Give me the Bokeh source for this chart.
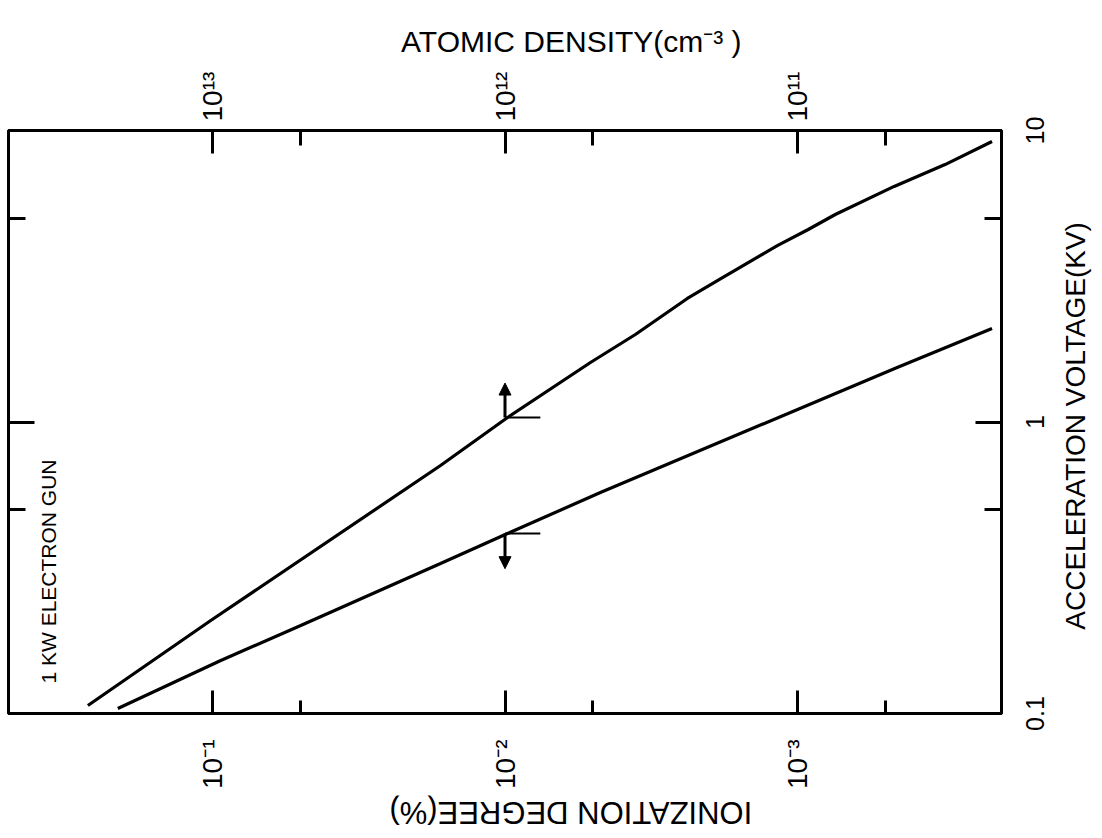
import math
from bokeh.plotting import figure
from bokeh.layouts import column, row
from bokeh.models import (Range1d, LogAxis, LogScale, FixedTicker, Label,
                          ColumnDataSource, Arrow, NormalHead)
from bokeh.core.properties import value
from bokeh.embed import file_html
from bokeh.resources import INLINE

# ---------------- data ----------------
ion_upper = [0.2675, 0.1016, 0.01662, 0.0098, 0.0051, 0.00358, 0.002377, 0.00182,
             0.00117, 9.17e-4, 7.41e-4, 4.66e-4, 3.12e-4, 2.155e-4]
volt_upper = [0.1065, 0.2085, 0.709, 1.036, 1.60, 1.996, 2.653, 3.107,
              4.03, 4.575, 5.15, 6.43, 7.64, 9.17]

ion_lower = [0.2113, 0.0939, 0.0500, 0.01662, 0.0098, 0.004716, 4.55e-4, 2.155e-4]
volt_lower = [0.1040, 0.152, 0.2003, 0.327, 0.4144, 0.573, 1.538, 2.093]

ion_ticks = [1e-1, 1e-2, 1e-3]
ion_tick_labels = ["10\u207b\u00b9", "10\u207b\u00b2", "10\u207b\u00b3"]
ion_minor = [5e-2, 5e-3, 5e-4]

dens_ticks = [1e13, 1e12, 1e11]
dens_tick_labels = ["10\u00b9\u00b3", "10\u00b9\u00b2", "10\u00b9\u00b9"]
dens_minor = [5e12, 5e11, 5e10]

volt_ticks = [0.1, 1, 10]
volt_tick_labels = ["0.1", "1", "10"]
volt_minor = [0.5, 5]

ion_range = (0.5, 2e-4)
volt_range = (0.1, 10)
dens_per_ion = 1e14

marker_ion = [1e-2, 1e-2]
marker_ion_end = [7.57e-3, 7.57e-3]
marker_volt = [1.036, 0.4144]
arrow_volt_end = [1.36, 0.314]

x_title = "IONIZATION  DEGREE(%)"
x2_title = "ATOMIC  DENSITY(cm\u207b\u00b3 )"
y_title = "ACCELERATION  VOLTAGE(KV)"
note = "1 KW ELECTRON GUN"

FONT = "Liberation Sans"
TICK_FS = "28px"

# layout geometry (pixels)
W, H = 1102, 838
TOP_H, BOT_H = 62, 43
MAIN_W = 1003
MAIN_H = H - TOP_H - BOT_H
MB_TOP, MB_BOT, MB_LEFT, MB_RIGHT = 68, 82, 8, 2


def bare(fig):
    fig.grid.visible = False
    fig.outline_line_color = None
    fig.background_fill_color = "white"
    fig.border_fill_color = "white"
    fig.title.visible = False
    if "frame_align" in fig.properties():
        fig.frame_align = False
    return fig


# ---------------- main figure ----------------
p = figure(width=MAIN_W, height=MAIN_H, x_axis_type="log", y_axis_type="log",
           x_range=Range1d(*ion_range), y_range=Range1d(*volt_range),
           output_backend="svg", toolbar_location=None,
           min_border_left=MB_LEFT, min_border_right=MB_RIGHT,
           min_border_top=MB_TOP, min_border_bottom=MB_BOT)
p.title.visible = False
p.grid.visible = False
p.outline_line_color = "black"
p.outline_line_width = 3
p.background_fill_color = "white"
p.border_fill_color = "white"
if "frame_align" in p.properties():
    p.frame_align = False

p.extra_x_ranges = {"density": Range1d(ion_range[0] * dens_per_ion, ion_range[1] * dens_per_ion)}
p.extra_x_scales = {"density": LogScale()}


def style(ax, major, minor, labels, orient, standoff, tin, tmin):
    ax.ticker = FixedTicker(ticks=major, minor_ticks=minor)
    ax.major_label_overrides = {float(t): l for t, l in zip(major, labels)}
    ax.major_label_orientation = orient
    ax.major_label_standoff = standoff
    ax.major_tick_in = tin
    ax.major_tick_out = 0
    ax.minor_tick_in = tmin
    ax.minor_tick_out = 0
    ax.major_tick_line_width = 3
    ax.minor_tick_line_width = 3
    ax.axis_line_width = 3
    ax.axis_line_color = "black"
    ax.major_tick_line_color = "black"
    ax.minor_tick_line_color = "black"
    ax.major_label_text_font = FONT
    ax.major_label_text_font_size = TICK_FS
    ax.major_label_text_color = "black"


style(p.xaxis[0], ion_ticks, ion_minor, ion_tick_labels, math.pi / 2, 26, 23, 13)

top_axis = LogAxis(x_range_name="density")
style(top_axis, dens_ticks, dens_minor, dens_tick_labels, math.pi / 2, 9, 23, 15)
p.add_layout(top_axis, "above")

style(p.yaxis[0], [1], volt_minor, [""], "horizontal", 0, 26, 17)

right_axis = LogAxis()
style(right_axis, volt_ticks, volt_minor, ["", "", ""], "horizontal", 0, 26, 17)
p.add_layout(right_axis, "right")

# curves
p.line(ion_upper, volt_upper, line_width=3.2, line_color="black")
p.line(ion_lower, volt_lower, line_width=3.2, line_color="black")

# markers at 1e-2
p.segment(x0=marker_ion, y0=marker_volt, x1=marker_ion_end, y1=marker_volt,
          line_width=2, line_color="black")
asrc = ColumnDataSource(dict(x0=marker_ion, y0=marker_volt, y1=arrow_volt_end))
p.add_layout(Arrow(end=NormalHead(size=12, fill_color="black", line_color="black"),
                   x_start="x0", y_start="y0", x_end="x0", y_end="y1", source=asrc,
                   line_width=3, line_color="black"))

p.add_layout(Label(x=ion_range[0], y=volt_range[0], x_offset=40, y_offset=30,
                   text=note, angle=math.pi / 2, text_align="left", text_baseline="middle",
                   text_font=FONT, text_font_size="21px", text_color="black"))

# ---------------- right strip: voltage tick labels and title ----------------
decade_px = (MAIN_H - MB_TOP - MB_BOT) / (math.log10(volt_range[1]) - math.log10(volt_range[0]))
strip_lo = 10 ** (math.log10(volt_range[0]) - MB_BOT / decade_px)
strip_hi = 10 ** (math.log10(volt_range[1]) + MB_TOP / decade_px)
RW = W - MAIN_W
r = bare(figure(width=RW, height=MAIN_H, x_range=Range1d(0, RW),
                y_range=Range1d(strip_lo, strip_hi), y_axis_type="log",
                x_axis_location=None, y_axis_location=None,
                output_backend="svg", toolbar_location=None, min_border=0))
r.text(x=[22] * len(volt_ticks), y=volt_ticks, text=volt_tick_labels, angle=math.pi / 2,
       text_align="center", text_baseline="top", text_font=value(FONT),
       text_font_size="25px", text_color="black")
r.text(x=[72], y=[1.0], text=[y_title], angle=math.pi / 2,
       text_align="center", text_baseline="middle", text_font=value(FONT),
       text_font_size="28px", text_color="black")

# ---------------- top strip: density title ----------------
t = bare(figure(width=W, height=TOP_H, x_range=Range1d(0, W), y_range=Range1d(0, TOP_H),
                x_axis_location=None, y_axis_location=None,
                output_backend="svg", toolbar_location=None, min_border=0))
t.text(x=[575], y=[21], text=[x2_title], text_align="center", text_baseline="middle",
       text_font=value(FONT), text_font_size="30px", text_color="black")

# ---------------- bottom strip: ionization title ----------------
b = bare(figure(width=W, height=BOT_H, x_range=Range1d(0, W), y_range=Range1d(0, BOT_H),
                x_axis_location=None, y_axis_location=None,
                output_backend="svg", toolbar_location=None, min_border=0))
b.text(x=[566], y=[26], text=[x_title], angle=math.pi, text_align="center",
       text_baseline="middle", text_font=value(FONT), text_font_size="31px",
       text_color="black")

layout = column(t, row(p, r, spacing=0), b, spacing=0)
open("out.html", "w").write(file_html(layout, INLINE))
